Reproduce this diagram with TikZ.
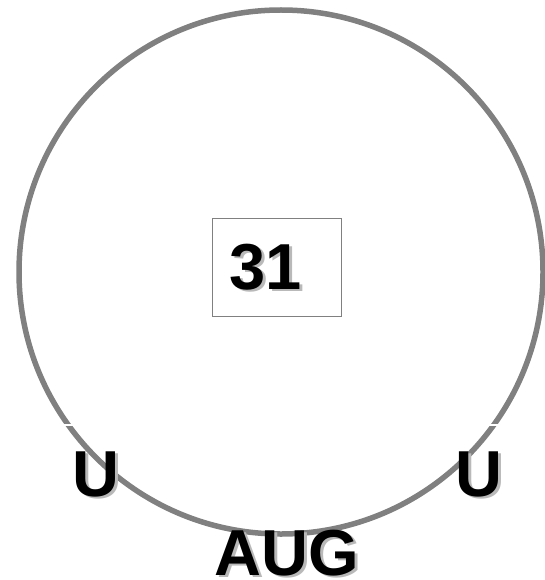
\documentclass[tikz,border=0pt]{standalone}
\usepackage{fontspec}
\setmainfont{Liberation Sans}
\usepackage{tikz}
\usetikzlibrary{positioning}
\definecolor{ring}{RGB}{128,128,128}
\definecolor{shade}{RGB}{185,185,185}
\tikzset{
  dial/.style={circle, draw=ring, line width=5.5pt, minimum size=524pt, inner sep=0pt},
  datebox/.style={rectangle, draw=ring, line width=0.8pt, minimum width=129pt,
                  minimum height=98pt, inner sep=0pt},
  big/.style={inner sep=0pt, font=\fontsize{65}{65}\selectfont\bfseries},
  shd/.style={big, text=shade},
  nick/.style={white, line width=1.5pt},
}

\begin{document}
\begin{tikzpicture}[x=1pt,y=-1pt]
\useasboundingbox (0,0) rectangle (545,580);
\node[dial] (rim) at (281,272) {};
\node[datebox] (frame) at (277,267) {};
% small breaks in the ring
\coordinate (nl1) at (60,425);  \coordinate (nl2) at (80,425);
\coordinate (nr1) at (484,425); \coordinate (nr2) at (506,425);
\draw[nick] (nl1) -- (nl2);
\draw[nick] (nr1) -- (nr2);
\foreach \n/\x/\y/\t in {
 day/266/267/31,
 uleft/96/474/U,
 uright/479/474/U,
 month/287/553/AUG} {
  \node[shd] at (\x+2.5,\y+2.5) {\t};
  \node[big] (\n) at (\x,\y) {\t};
}
\end{tikzpicture}
\end{document}
